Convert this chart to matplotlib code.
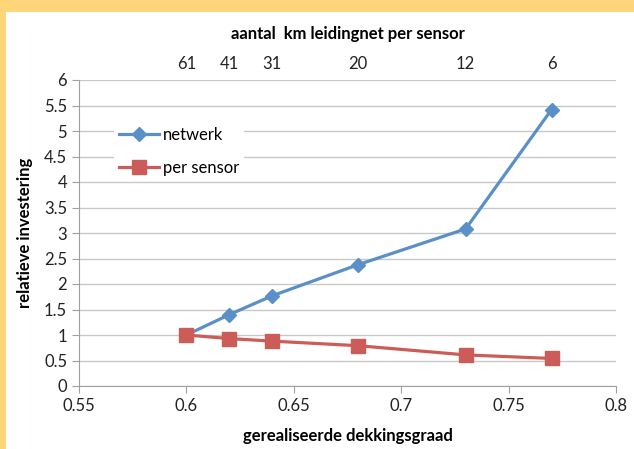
import matplotlib.pyplot as plt
from matplotlib.patches import Rectangle

# data
dekking = [0.60, 0.62, 0.64, 0.68, 0.73, 0.77]
netwerk = [1.00, 1.40, 1.77, 2.38, 3.08, 5.42]
per_sensor = [1.00, 0.93, 0.88, 0.79, 0.61, 0.54]
km_labels = ['61', '41', '31', '20', '12', '6']

plt.rcParams['font.family'] = ['Lato', 'DejaVu Sans']

fig = plt.figure(figsize=(6.34, 4.49), dpi=100)
# yellow frame at top and left
fig.patches.append(Rectangle((0, 0), 1, 1, transform=fig.transFigure,
                             facecolor='#FFD57A', edgecolor='none', zorder=-2))
fig.patches.append(Rectangle((6/634, 0), 1, 1 - 12/449, transform=fig.transFigure,
                             facecolor='white', edgecolor='none', zorder=-1))

ax = fig.add_axes([79/634, 1 - 386/449, 537/634, 306/449])
ax.plot(dekking, netwerk, color='#5B8FC7', lw=2.3, marker='D', ms=7,
        label='netwerk')
ax.plot(dekking, per_sensor, color='#CC5C58', lw=2.3, marker='s', ms=10,
        label='per sensor')

ax.set_xlim(0.55, 0.8)
ax.set_ylim(0, 6)
ax.set_xticks([0.55, 0.6, 0.65, 0.7, 0.75, 0.8])
ax.set_xticklabels(['0.55', '0.6', '0.65', '0.7', '0.75', '0.8'])
ax.set_yticks([0, 0.5, 1, 1.5, 2, 2.5, 3, 3.5, 4, 4.5, 5, 5.5, 6])
ax.set_yticklabels(['0', '0.5', '1', '1.5', '2', '2.5', '3', '3.5', '4',
                    '4.5', '5', '5.5', '6'])
ax.grid(axis='y', color='#C8C8C8', lw=1)
ax.set_axisbelow(True)
for s in ['top', 'right']:
    ax.spines[s].set_visible(False)
for s in ['left', 'bottom']:
    ax.spines[s].set_color('#A0A0A0')
ax.tick_params(colors='#A0A0A0', labelcolor='#222222', labelsize=12, length=5)
ax.set_xlabel('gerealiseerde dekkingsgraad', fontsize=12, fontweight='bold',
              labelpad=10)
ax.set_ylabel('relatieve investering', fontsize=12, fontweight='bold',
              labelpad=8)

leg = ax.legend(loc='upper left', bbox_to_anchor=(0.05, 0.89), frameon=True,
                fontsize=12, handlelength=2.4, borderpad=0.3,
                labelspacing=1.0, handletextpad=0.2)
leg.get_frame().set_edgecolor('none')
leg.get_frame().set_facecolor('white')
leg.get_frame().set_alpha(1)

top = ax.twiny()
top.set_xlim(ax.get_xlim())
top.set_xticks(dekking)
top.set_xticklabels(km_labels)
top.tick_params(length=0, labelsize=12, labelcolor='#222222', pad=6)
for s in top.spines.values():
    s.set_visible(False)
top.set_xlabel('aantal  km leidingnet per sensor', fontsize=12,
               fontweight='bold', labelpad=12)

fig.savefig('out.png', dpi=100)
